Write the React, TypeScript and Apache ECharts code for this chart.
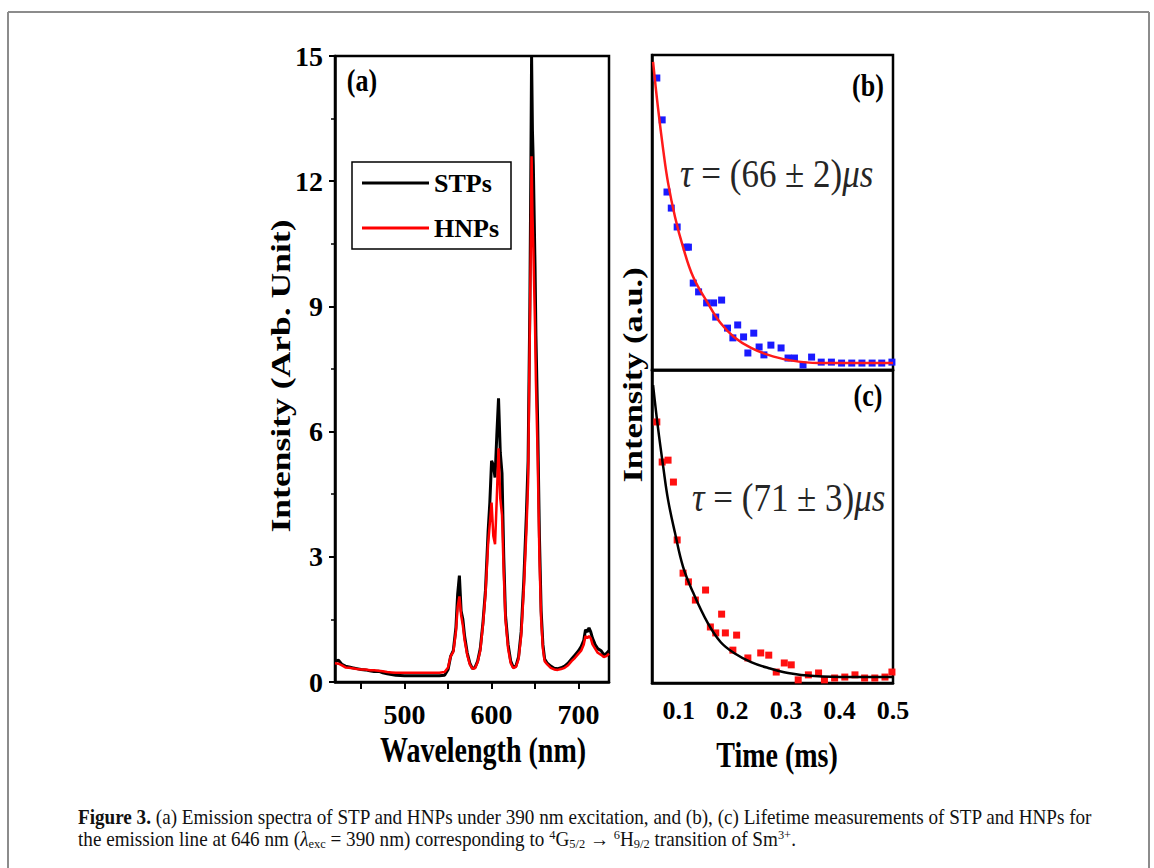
import React, { useEffect, useRef } from "react";
import * as echarts from "echarts";

// ---------- Panel (a): emission spectra ----------
const wavelengths = [
  420, 424, 428, 432, 436, 440, 445, 450, 455, 460, 465, 470, 475, 480, 485, 490,
  500, 510, 520, 530, 540, 546, 550, 553, 556, 559, 561, 563, 565, 567, 569, 572,
  575, 578, 581, 584, 587, 590, 593, 596, 598, 600, 602, 604, 606, 608, 610, 612,
  614, 616, 619, 622, 625, 628, 631, 634, 637, 640, 642, 644, 645, 646, 647, 648,
  650, 651, 653, 655, 657, 659, 661, 664, 668, 672, 676, 680, 684, 688, 692, 696,
  700, 703, 706, 708, 710, 712, 714, 716, 719, 722, 726, 729, 732, 735,
];
const stpIntensity = [
  0.5, 0.52, 0.42, 0.38, 0.36, 0.34, 0.32, 0.3, 0.29, 0.27, 0.25, 0.26, 0.22, 0.2, 0.18, 0.16,
  0.15, 0.15, 0.15, 0.15, 0.15, 0.16, 0.3, 0.62, 0.75, 1.3, 2.1, 2.55, 1.7, 1.5, 1.1, 0.7,
  0.45, 0.32, 0.35, 0.5, 0.8, 1.4, 2.2, 3.6, 4.3, 5.3, 5.2, 4.9, 5.9, 6.8, 5.5, 5.0,
  3.0, 1.6, 0.9, 0.5, 0.35, 0.38, 0.6, 1.2, 2.4, 4.0, 5.3, 9.0, 11.8, 15.0, 13.2, 12.4,
  9.9, 8.3, 6.2, 3.5, 1.7, 0.9, 0.55, 0.45, 0.38, 0.33, 0.32, 0.34, 0.38, 0.45, 0.55, 0.65,
  0.75, 0.85, 1.0, 1.25, 1.2, 1.3, 1.2, 1.05, 0.9, 0.8, 0.75, 0.65, 0.68, 0.75,
];
const hnpIntensity = [
  0.45, 0.44, 0.4, 0.35, 0.34, 0.33, 0.31, 0.3, 0.3, 0.28, 0.28, 0.27, 0.26, 0.24, 0.23, 0.22,
  0.22, 0.22, 0.22, 0.22, 0.22, 0.24, 0.35, 0.62, 0.72, 1.2, 1.8, 2.05, 1.6, 1.35, 1.0, 0.65,
  0.42, 0.32, 0.33, 0.48, 0.75, 1.35, 2.1, 3.3, 3.8, 4.3, 3.5, 3.3, 4.4, 5.6, 4.4, 4.0,
  2.6, 1.5, 0.8, 0.45, 0.33, 0.36, 0.55, 1.1, 2.2, 3.6, 4.8, 8.5, 10.3, 12.6, 11.2, 10.4,
  8.5, 7.2, 5.4, 3.0, 1.5, 0.8, 0.5, 0.42, 0.34, 0.3, 0.29, 0.31, 0.34, 0.4, 0.5, 0.58,
  0.68, 0.75, 0.9, 1.1, 1.05, 1.1, 1.05, 0.9, 0.8, 0.7, 0.65, 0.6, 0.62, 0.68,
];
const seriesNames = ["STPs", "HNPs"];
const xLabelsA = [500, 600, 700];
const xTicksA = [450, 500, 550, 600, 650, 700];

// ---------- Panel (b): decay, blue squares + red fit ----------
const decayBTime = [
  0.059, 0.069, 0.078, 0.086, 0.097, 0.114, 0.118, 0.127, 0.137, 0.152, 0.165, 0.18,
  0.169, 0.191, 0.21, 0.201, 0.221, 0.24, 0.229, 0.25, 0.259, 0.272, 0.291, 0.304,
  0.316, 0.332, 0.348, 0.366, 0.385, 0.404, 0.423, 0.442, 0.461, 0.479, 0.498,
];
const decayBIntensity = [
  0.927, 0.794, 0.565, 0.514, 0.454, 0.39, 0.39, 0.276, 0.248, 0.213, 0.213, 0.222,
  0.168, 0.133, 0.143, 0.102, 0.105, 0.117, 0.054, 0.073, 0.048, 0.079, 0.07, 0.038,
  0.038, 0.016, 0.041, 0.025, 0.025, 0.022, 0.022, 0.022, 0.022, 0.022, 0.025,
];
const fitBTime = [0.052, 0.061, 0.071, 0.08, 0.093, 0.108, 0.127, 0.154, 0.178, 0.203, 0.235, 0.267, 0.304, 0.361, 0.423, 0.5];
const fitBIntensity = [0.978, 0.835, 0.698, 0.594, 0.486, 0.39, 0.295, 0.213, 0.149, 0.105, 0.07, 0.048, 0.032, 0.022, 0.022, 0.022];

// ---------- Panel (c): decay, red squares + black fit ----------
const decayCTime = [
  0.059, 0.069, 0.08, 0.09, 0.097, 0.108, 0.118, 0.131, 0.15, 0.159, 0.169, 0.18,
  0.187, 0.201, 0.208, 0.229, 0.253, 0.268, 0.282, 0.297, 0.31, 0.323, 0.342, 0.361,
  0.372, 0.391, 0.41, 0.429, 0.447, 0.466, 0.485, 0.498,
];
const decayCIntensity = [
  0.834, 0.706, 0.712, 0.642, 0.457, 0.351, 0.323, 0.265, 0.297, 0.179, 0.16, 0.22,
  0.16, 0.105, 0.153, 0.08, 0.096, 0.089, 0.035, 0.064, 0.058, 0.01, 0.026, 0.032,
  0.01, 0.016, 0.019, 0.026, 0.016, 0.016, 0.019, 0.035,
];
const fitCTime = [0.052, 0.061, 0.071, 0.08, 0.093, 0.108, 0.127, 0.154, 0.178, 0.203, 0.235, 0.267, 0.304, 0.353, 0.423, 0.5];
const fitCIntensity = [0.952, 0.818, 0.69, 0.585, 0.479, 0.371, 0.288, 0.192, 0.131, 0.096, 0.067, 0.048, 0.032, 0.022, 0.019, 0.019];
const timeLabels = [0.1, 0.2, 0.3, 0.4, 0.5];

const SERIF = "'Liberation Serif', 'Times New Roman', serif";

const pairs = (xs: number[], ys: number[]) => xs.map((x, i) => [x, ys[i]]);

export default function App() {
  const ref = useRef<HTMLDivElement>(null);

  useEffect(() => {
    if (!ref.current) return;
    const chart = echarts.init(ref.current, undefined, { renderer: "svg" });

    const labelFont = { fontFamily: SERIF, fontWeight: "bold" as const, color: "#000" };
    const axisLine = { show: true, lineStyle: { color: "#000", width: 2.5 } };

    const capTok = (extra: any = {}) => ({
      fontFamily: SERIF,
      fontSize: 20,
      lineHeight: 22,
      fill: "#111",
      ...extra,
    });

    const caption =
      "{b|Figure 3.}{n| (a) Emission spectra of STP and HNPs under 390 nm excitation, and (b), (c) Lifetime measurements of STP and HNPs for}\n" +
      "{n|the emission line at 646 nm (}{i|λ}{sub|exc}{n| = 390 nm) corresponding to }{sup|4}{n|G}{sub|5/2}{n| → }{sup|6}{n|H}{sub|9/2}{n| transition of Sm}{sup|3+}{n|.}";

    const tauRich = {
      i: { fontFamily: SERIF, fontSize: 35, fontStyle: "italic", fill: "#262626" },
      n: { fontFamily: SERIF, fontSize: 35, fill: "#262626" },
    };

    const option: any = {
      animation: false,
      backgroundColor: "#fff",
      legend: {
        data: seriesNames,
        left: 352,
        top: 162,
        orient: "vertical",
        icon: "rect",
        itemWidth: 67,
        itemHeight: 3,
        itemGap: 19,
        padding: [8, 12, 8, 10],
        borderColor: "#000",
        borderWidth: 1.5,
        borderRadius: 0,
        textStyle: { ...labelFont, fontSize: 26, lineHeight: 26 },
      },
      grid: [
        { left: 335, top: 56, width: 274, height: 626, show: true, borderColor: "#000", borderWidth: 2.5 },
        { left: 652, top: 55, width: 241, height: 315, show: true, borderColor: "#000", borderWidth: 2.5 },
        { left: 652, top: 370, width: 241, height: 313, show: true, borderColor: "#000", borderWidth: 2.5 },
      ],
      xAxis: [
        {
          gridIndex: 0,
          type: "value",
          min: 420,
          max: 735,
          axisLine,
          splitLine: { show: false },
          axisTick: { show: true, customValues: xTicksA, length: 7, lineStyle: { color: "#000", width: 2 } },
          axisLabel: { customValues: xLabelsA, ...labelFont, fontSize: 28, margin: 18 },
        },
        {
          gridIndex: 1,
          type: "value",
          min: 0.05,
          max: 0.5,
          axisLine,
          splitLine: { show: false },
          axisTick: { show: false },
          axisLabel: { show: false },
        },
        {
          gridIndex: 2,
          type: "value",
          min: 0.05,
          max: 0.5,
          axisLine,
          splitLine: { show: false },
          axisTick: { show: false },
          axisLabel: { customValues: timeLabels, ...labelFont, fontSize: 26, margin: 14 },
        },
      ],
      yAxis: [
        {
          gridIndex: 0,
          type: "value",
          min: 0,
          max: 15,
          interval: 3,
          axisLine,
          splitLine: { show: false },
          axisTick: { show: true, length: 6, lineStyle: { color: "#000", width: 2 } },
          minorTick: { show: true, splitNumber: 2, length: 4, lineStyle: { color: "#000", width: 1.5 } },
          minorSplitLine: { show: false },
          axisLabel: { ...labelFont, fontSize: 28, margin: 12 },
        },
        {
          gridIndex: 1,
          type: "value",
          min: 0,
          max: 1,
          axisLine,
          splitLine: { show: false },
          axisTick: { show: false },
          axisLabel: { show: false },
        },
        {
          gridIndex: 2,
          type: "value",
          min: 0,
          max: 1,
          axisLine,
          splitLine: { show: false },
          axisTick: { show: false },
          axisLabel: { show: false },
        },
      ],
      series: [
        {
          name: seriesNames[0],
          type: "line",
          xAxisIndex: 0,
          yAxisIndex: 0,
          data: pairs(wavelengths, stpIntensity),
          symbol: "none",
          lineStyle: { color: "#000", width: 3 },
          itemStyle: { color: "#000" },
          clip: true,
        },
        {
          name: seriesNames[1],
          type: "line",
          xAxisIndex: 0,
          yAxisIndex: 0,
          data: pairs(wavelengths, hnpIntensity),
          symbol: "none",
          lineStyle: { color: "#ff0000", width: 2.5 },
          itemStyle: { color: "#ff0000" },
          clip: true,
        },
        {
          name: "decayB",
          type: "scatter",
          xAxisIndex: 1,
          yAxisIndex: 1,
          data: pairs(decayBTime, decayBIntensity),
          symbol: "rect",
          symbolSize: 7,
          itemStyle: { color: "#1a1aff", opacity: 1 },
        },
        {
          name: "fitB",
          type: "line",
          xAxisIndex: 1,
          yAxisIndex: 1,
          data: pairs(fitBTime, fitBIntensity),
          smooth: 0.4,
          symbol: "none",
          lineStyle: { color: "#ff1a1a", width: 2.5 },
          clip: true,
        },
        {
          name: "decayC",
          type: "scatter",
          xAxisIndex: 2,
          yAxisIndex: 2,
          data: pairs(decayCTime, decayCIntensity),
          symbol: "rect",
          symbolSize: 7,
          itemStyle: { color: "#ff1010", opacity: 1 },
        },
        {
          name: "fitC",
          type: "line",
          xAxisIndex: 2,
          yAxisIndex: 2,
          data: pairs(fitCTime, fitCIntensity),
          smooth: 0.4,
          symbol: "none",
          lineStyle: { color: "#000", width: 2.5 },
          clip: true,
        },
      ],
      graphic: [
        // outer frame
        { type: "line", shape: { x1: 8, y1: 12, x2: 8, y2: 868 }, style: { stroke: "#8c8c8c", lineWidth: 2 } },
        { type: "line", shape: { x1: 8, y1: 12, x2: 1149, y2: 12 }, style: { stroke: "#8c8c8c", lineWidth: 2 } },
        { type: "line", shape: { x1: 1149, y1: 12, x2: 1149, y2: 868 }, style: { stroke: "#8c8c8c", lineWidth: 2 } },
        // axis titles
        {
          type: "text",
          x: 483,
          y: 750,
          scaleY: 1.25,
          style: { text: "Wavelength (nm)", fontFamily: SERIF, fontSize: 28, fontWeight: "bold", fill: "#000", align: "center", verticalAlign: "middle" },
        },
        {
          type: "text",
          x: 777,
          y: 755,
          scaleY: 1.25,
          style: { text: "Time (ms)", fontFamily: SERIF, fontSize: 28, fontWeight: "bold", fill: "#000", align: "center", verticalAlign: "middle" },
        },
        {
          type: "text",
          x: 280,
          y: 376,
          rotation: Math.PI / 2,
          scaleX: 1.27,
          style: { text: "Intensity (Arb. Unit)", fontFamily: SERIF, fontSize: 28, fontWeight: "bold", fill: "#000", align: "center", verticalAlign: "middle" },
        },
        {
          type: "text",
          x: 633,
          y: 375,
          rotation: Math.PI / 2,
          scaleX: 1.23,
          style: { text: "Intensity (a.u.)", fontFamily: SERIF, fontSize: 28, fontWeight: "bold", fill: "#000", align: "center", verticalAlign: "middle" },
        },
        // panel labels
        {
          type: "text", x: 362, y: 80, scaleY: 1.2,
          style: { text: "(a)", fontFamily: SERIF, fontSize: 26, fontWeight: "bold", fill: "#000", align: "center", verticalAlign: "middle" },
        },
        {
          type: "text", x: 868, y: 85, scaleY: 1.2,
          style: { text: "(b)", fontFamily: SERIF, fontSize: 26, fontWeight: "bold", fill: "#000", align: "center", verticalAlign: "middle" },
        },
        {
          type: "text", x: 868, y: 395, scaleY: 1.2,
          style: { text: "(c)", fontFamily: SERIF, fontSize: 26, fontWeight: "bold", fill: "#000", align: "center", verticalAlign: "middle" },
        },
        // lifetimes
        {
          type: "text", x: 680, y: 173, scaleY: 1.15,
          style: { text: "{i|τ}{n| = (66 ± 2)}{i|μs}", rich: tauRich, fontFamily: SERIF, fontSize: 35, align: "left", verticalAlign: "middle" },
        },
        {
          type: "text", x: 692, y: 497, scaleY: 1.15,
          style: { text: "{i|τ}{n| = (71 ± 3)}{i|μs}", rich: tauRich, fontFamily: SERIF, fontSize: 35, align: "left", verticalAlign: "middle" },
        },
        // caption
        {
          type: "text",
          x: 78,
          y: 806,
          scaleX: 0.957,
          style: {
            text: caption,
            fontFamily: SERIF,
            fontSize: 20,
            lineHeight: 22,
            fill: "#111",
            align: "left",
            verticalAlign: "top",
            rich: {
              b: capTok({ fontWeight: "bold" }),
              n: capTok(),
              i: capTok({ fontStyle: "italic" }),
              sub: capTok({ fontSize: 13, lineHeight: 15, verticalAlign: "bottom" }),
              sup: capTok({ fontSize: 13, lineHeight: 15, verticalAlign: "top" }),
            },
          },
        },
      ],
    };

    chart.setOption(option);
    return () => chart.dispose();
  }, []);

  return (
    <div
      ref={ref}
      style={{ position: "absolute", left: 0, top: 0, width: 1154, height: 868, background: "#fff" }}
    />
  );
}
